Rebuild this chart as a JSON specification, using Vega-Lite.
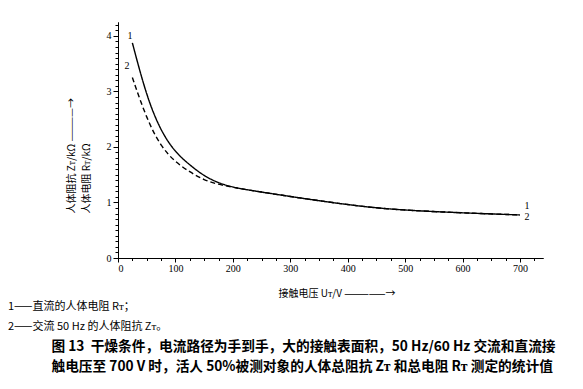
{
  "$schema": "https://vega.github.io/schema/vega-lite/v6.json",
  "width": 425,
  "height": 236,
  "autosize": {"type": "none"},
  "padding": {"left": 118, "top": 22, "right": 40, "bottom": 131},
  "background": "white",
  "config": {
    "view": {"stroke": null},
    "axis": {"domainColor": "black", "tickColor": "black", "labelColor": "black", "titleColor": "black", "grid": false, "labelFont": "Liberation Serif", "labelFontSize": 10, "titleFont": "Noto Sans CJK SC", "titleFontSize": 10, "titleFontWeight": "normal", "domainWidth": 1, "tickWidth": 1}
  },
  "datasets": {
    "curves": [
      {"U": 25, "v": 3.875, "curve": "1"},
      {"U": 50, "v": 2.9, "curve": "1"},
      {"U": 75, "v": 2.275, "curve": "1"},
      {"U": 100, "v": 1.9, "curve": "1"},
      {"U": 125, "v": 1.675, "curve": "1"},
      {"U": 150, "v": 1.475, "curve": "1"},
      {"U": 175, "v": 1.35, "curve": "1"},
      {"U": 200, "v": 1.275, "curve": "1"},
      {"U": 225, "v": 1.225, "curve": "1"},
      {"U": 400, "v": 0.95, "curve": "1"},
      {"U": 500, "v": 0.85, "curve": "1"},
      {"U": 700, "v": 0.775, "curve": "1"},
      {"U": 25, "v": 3.25, "curve": "2"},
      {"U": 50, "v": 2.5, "curve": "2"},
      {"U": 75, "v": 2.0, "curve": "2"},
      {"U": 100, "v": 1.725, "curve": "2"},
      {"U": 125, "v": 1.55, "curve": "2"},
      {"U": 150, "v": 1.4, "curve": "2"},
      {"U": 175, "v": 1.325, "curve": "2"},
      {"U": 200, "v": 1.275, "curve": "2"},
      {"U": 225, "v": 1.225, "curve": "2"},
      {"U": 400, "v": 0.95, "curve": "2"},
      {"U": 500, "v": 0.85, "curve": "2"},
      {"U": 700, "v": 0.775, "curve": "2"}
    ],
    "labels": [
      {"U": 21, "v": 3.99, "t": "1"},
      {"U": 15.5, "v": 3.45, "t": "2"},
      {"U": 712, "v": 0.94, "t": "1"},
      {"U": 712, "v": 0.74, "t": "2"}
    ]
  },
  "title": {
    "text": ["1——直流的人体电阻 Rᴛ；", "2——交流 50 Hz 的人体阻抗 Zᴛ。"],
    "subtitle": ["\u200b\u00a0\u00a0\u00a0\u00a0\u00a0\u00a0\u00a0\u00a0\u00a0\u00a0\u00a0\u00a0\u00a0\u00a0图 13\u00a0\u00a0干燥条件，电流路径为手到手，大的接触表面积，50 Hz/60 Hz 交流和直流接", "\u200b\u00a0\u00a0\u00a0\u00a0\u00a0\u00a0\u00a0\u00a0\u00a0\u00a0\u00a0\u00a0\u00a0\u00a0触电压至 700 V 时，活人 50%被测对象的人体总阻抗 Zᴛ 和总电阻 Rᴛ 测定的统计值"],
    "orient": "bottom",
    "anchor": "start",
    "frame": "group",
    "dx": -110,
    "offset": 2,
    "font": "Noto Sans CJK SC",
    "fontSize": 11,
    "fontWeight": "normal",
    "lineHeight": 20,
    "color": "black",
    "subtitleFont": "Noto Sans CJK SC",
    "subtitleFontSize": 13.7,
    "subtitleFontWeight": "bold",
    "subtitleLineHeight": 20,
    "subtitleColor": "black",
    "subtitlePadding": 8
  },
  "layer": [
    {
      "data": {"name": "curves"},
      "mark": {"type": "line", "interpolate": "basis", "color": "black", "strokeWidth": 1.4},
      "encoding": {
        "x": {"field": "U", "type": "quantitative", "scale": {"domain": [0, 740], "nice": false, "zero": true},
          "axis": {"orient": "bottom", "values": [0,25,50,75,100,125,150,175,200,225,250,275,300,325,350,375,400,425,450,475,500,525,550,575,600,625,650,675,700,725], "labels": false, "tickSize": 2.5, "title": null}},
        "y": {"field": "v", "type": "quantitative", "scale": {"domain": [0, 4.25], "nice": false},
          "axis": {"orient": "left", "values": [0,0.1,0.2,0.3,0.4,0.5,0.6,0.7,0.8,0.9,1,1.1,1.2,1.3,1.4,1.5,1.6,1.7,1.8,1.9,2,2.1,2.2,2.3,2.4,2.5,2.6,2.7,2.8,2.9,3,3.1,3.2,3.3,3.4,3.5,3.6,3.7,3.8,3.9,4,4.1,4.2], "labels": false, "tickSize": 3, "title": null}},
        "strokeDash": {"field": "curve", "type": "nominal", "scale": {"domain": ["1", "2"], "range": [[1, 0], [5, 3]]}, "legend": null}
      }
    },
    {
      "data": {"name": "labels"},
      "mark": {"type": "text", "font": "Liberation Serif", "fontSize": 10, "color": "black"},
      "encoding": {
        "x": {"field": "U", "type": "quantitative", "scale": {"domain": [0, 740], "nice": false},
          "axis": {"orient": "bottom", "values": [0,100,200,300,400,500,600,700], "tickSize": 4, "labelPadding": 1, "title": "接触电压 Uᴛ/V —————→", "titleX": 160, "titleY": 35.5, "titleAlign": "left", "titleBaseline": "middle"}},
        "y": {"field": "v", "type": "quantitative", "scale": {"domain": [0, 4.25], "nice": false},
          "axis": {"orient": "left", "values": [0,1,2,3,4], "tickSize": 5, "labelPadding": 2, "title": ["人体阻抗 Zᴛ/kΩ ————→", "人体电阻  Rᴛ/kΩ"], "titleAngle": 270, "titleX": -42, "titleY": 191, "titleAlign": "left", "titleBaseline": "bottom", "titleLineHeight": 15}},
        "text": {"field": "t", "type": "nominal"}
      }
    }
  ],
  "resolve": {"axis": {"x": "independent", "y": "independent"}}
}
